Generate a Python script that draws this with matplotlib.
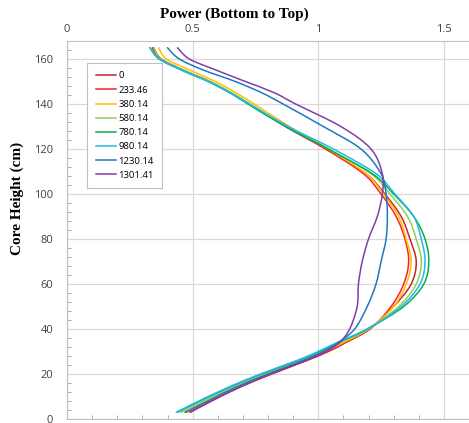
import numpy as np
import matplotlib
matplotlib.use('Agg')
import matplotlib.pyplot as plt
from matplotlib.ticker import MultipleLocator
from matplotlib.path import Path
from matplotlib.patches import PathPatch
from matplotlib.lines import Line2D

# core height (cm) at which the curves were read
height = [3, 8, 14, 20, 26, 30, 34, 40, 50, 60, 70, 80, 90, 100, 109, 120, 130, 140, 145, 150, 155, 160, 165]

# power for each burnup step
p_0 = [0.49, 0.575, 0.685, 0.815, 0.955, 1.04, 1.11, 1.205, 1.30, 1.37, 1.39, 1.365, 1.33, 1.265, 1.19, 1.03, 0.87, 0.725, 0.65, 0.565, 0.46, 0.37, 0.34]
p_233 = [0.475, 0.565, 0.68, 0.81, 0.95, 1.035, 1.105, 1.205, 1.29, 1.34, 1.36, 1.345, 1.31, 1.25, 1.18, 1.03, 0.87, 0.725, 0.652, 0.568, 0.465, 0.375, 0.345]
p_380 = [0.47, 0.56, 0.67, 0.80, 0.94, 1.025, 1.10, 1.20, 1.30, 1.35, 1.37, 1.35, 1.32, 1.26, 1.19, 1.04, 0.885, 0.745, 0.672, 0.59, 0.49, 0.395, 0.365]
p_580 = [0.455, 0.545, 0.66, 0.79, 0.93, 1.015, 1.09, 1.20, 1.32, 1.39, 1.41, 1.39, 1.355, 1.285, 1.21, 1.04, 0.875, 0.73, 0.655, 0.57, 0.465, 0.372, 0.345]
p_780 = [0.44, 0.53, 0.645, 0.775, 0.92, 1.005, 1.08, 1.195, 1.34, 1.42, 1.44, 1.425, 1.38, 1.30, 1.215, 1.04, 0.87, 0.72, 0.648, 0.562, 0.458, 0.368, 0.33]
p_980 = [0.435, 0.525, 0.64, 0.77, 0.915, 1.0, 1.075, 1.195, 1.33, 1.405, 1.425, 1.41, 1.38, 1.305, 1.23, 1.06, 0.88, 0.725, 0.65, 0.563, 0.458, 0.366, 0.33]
p_1230 = [0.47, 0.56, 0.67, 0.80, 0.94, 1.02, 1.08, 1.145, 1.195, 1.23, 1.25, 1.27, 1.275, 1.27, 1.25, 1.17, 1.02, 0.86, 0.775, 0.67, 0.545, 0.447, 0.40]
p_1301 = [0.49, 0.575, 0.685, 0.81, 0.95, 1.03, 1.085, 1.125, 1.155, 1.16, 1.175, 1.20, 1.235, 1.255, 1.255, 1.21, 1.09, 0.91, 0.825, 0.71, 0.595, 0.487, 0.44]

labels = ['0', '233.46', '380.14', '580.14', '780.14', '980.14', '1230.14', '1301.41']
series = [p_0, p_233, p_380, p_580, p_780, p_980, p_1230, p_1301]
colors = ['#C0272D', '#FF2020', '#FFC000', '#92D050', '#00B050', '#22B8F0', '#1F77C4', '#7E3FA8']


def smooth_path(xs, ys):
	# excel style smoothed line: bezier segments through the points
	pts = np.column_stack([xs, ys]).astype(float)
	ext = np.vstack([pts[0], pts, pts[-1]])
	verts = [pts[0]]
	codes = [Path.MOVETO]
	for i in range(1, len(ext) - 2):
		p0, p1, p2, p3 = ext[i-1], ext[i], ext[i+1], ext[i+2]
		verts += [p1 + (p2 - p0)/6, p2 - (p3 - p1)/6, p2]
		codes += [Path.CURVE4]*3
	return Path(verts, codes)


fig = plt.figure(figsize=(4.69, 4.23), dpi=100)
ax = fig.add_axes([67/469, 4/423, 402/469, 378/423])

handles = []
for vals, lab, c in zip(series, labels, colors):
	ax.add_patch(PathPatch(smooth_path(vals, height), fill=False, edgecolor=c, lw=1.1, capstyle='round'))
	handles.append(Line2D([], [], color=c, lw=1.1, label=lab))

ax.set_xlim(0, 1.6)
ax.set_ylim(0, 168)
ax.xaxis.set_major_locator(MultipleLocator(0.5))
ax.xaxis.set_minor_locator(MultipleLocator(0.1))
ax.yaxis.set_major_locator(MultipleLocator(20))
ax.yaxis.set_minor_locator(MultipleLocator(4))
ax.set_xticks([0, 0.5, 1, 1.5])
ax.set_xticklabels(['0', '0.5', '1', '1.5'])

ax.xaxis.tick_top()
ax.tick_params(axis='x', which='major', length=0, pad=4, labelsize=8, labelcolor='#404040')
ax.tick_params(axis='x', which='minor', bottom=True, top=False, direction='in', length=3, color='#a0a0a0')
ax.tick_params(axis='y', which='major', length=0, pad=10, labelsize=8, labelcolor='#404040')
ax.tick_params(axis='y', which='minor', direction='in', length=3, color='#a0a0a0')
for lbl in ax.get_xticklabels() + ax.get_yticklabels():
	lbl.set_family('Open Sans')

ax.grid(True, which='major', color='#d9d9d9', lw=0.9)
ax.set_axisbelow(True)
for s in ['left', 'bottom', 'top']:
	ax.spines[s].set_color('#bfbfbf')
ax.spines['right'].set_visible(False)

fig.text(0.5, 0.967, 'Power (Bottom to Top)', ha='center', va='center',
	family='Liberation Serif', fontweight='bold', fontsize=11)
fig.text(0.036, 0.53, 'Core Height (cm)', ha='center', va='center', rotation=90,
	family='Liberation Serif', fontweight='bold', fontsize=11)

leg = ax.legend(handles=handles, loc='upper left', bbox_to_anchor=(0.05, 0.942), fontsize=6.8,
	handlelength=2.2, handletextpad=0.2, labelspacing=0.55, borderpad=0.9, borderaxespad=0,
	fancybox=False, edgecolor='#bfbfbf', framealpha=1)
leg.get_frame().set_linewidth(0.8)
for t in leg.get_texts():
	t.set_family('Open Sans')

fig.savefig('out.png', dpi=100)
